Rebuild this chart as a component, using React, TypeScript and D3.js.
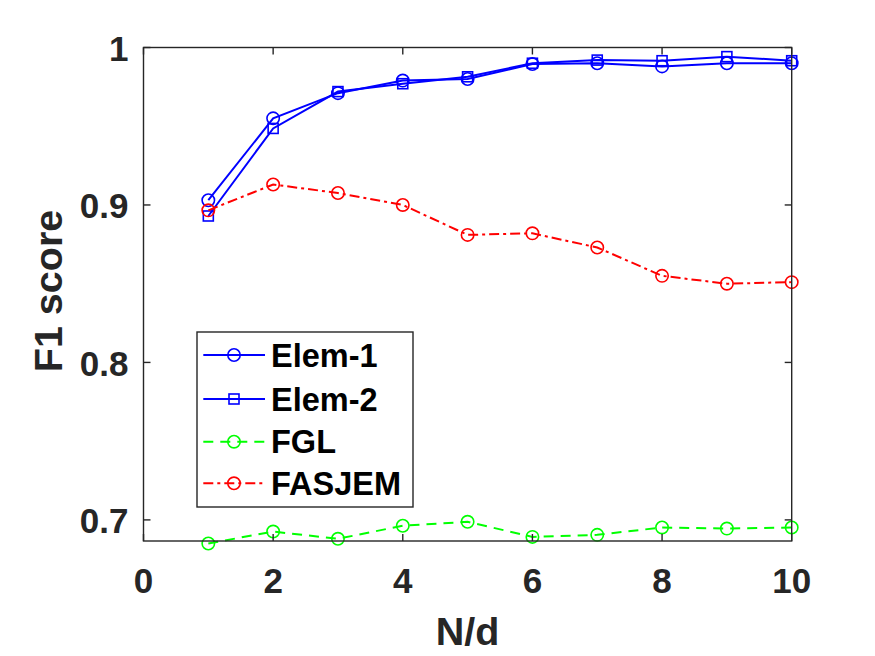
import React from "react";
import * as d3 from "d3";

const xValues = [1, 2, 3, 4, 5, 6, 7, 8, 9, 10];
const elem1 = [0.903, 0.955, 0.971, 0.979, 0.980, 0.9895, 0.990, 0.988, 0.990, 0.990];
const elem2 = [0.893, 0.9486, 0.972, 0.977, 0.9814, 0.990, 0.992, 0.9916, 0.9942, 0.9916];
const fgl = [0.685, 0.6926, 0.688, 0.6963, 0.6988, 0.6892, 0.6905, 0.6952, 0.6945, 0.6952];
const fasjem = [0.8966, 0.913, 0.9076, 0.900, 0.881, 0.882, 0.873, 0.855, 0.850, 0.851];
const xTicks = [0, 2, 4, 6, 8, 10];
const yTicks = [0.7, 0.8, 0.9, 1];
const yTickLabels = ["0.7", "0.8", "0.9", "1"];

const seriesNames = ["Elem-1", "Elem-2", "FGL", "FASJEM"];

const W = 875;
const H = 656;
const left = 143.5, right = 791.7, top = 47.5, bottom = 541;

const axisColor = "#262626";
const font = "'Liberation Sans', Arial, Helvetica, sans-serif";

type Series = { name: string; values: number[]; color: string; dash: string; marker: "circle" | "square" };

const series: Series[] = [
  { name: seriesNames[0], values: elem1, color: "#0000ff", dash: "", marker: "circle" },
  { name: seriesNames[1], values: elem2, color: "#0000ff", dash: "", marker: "square" },
  { name: seriesNames[2], values: fgl, color: "#00ff00", dash: "10,7", marker: "circle" },
  { name: seriesNames[3], values: fasjem, color: "#ff0000", dash: "10,4,3,4", marker: "circle" },
];

function Marker({ type, x, y, color }: { type: string; x: number; y: number; color: string }) {
  if (type === "square") {
    return <rect x={x - 5} y={y - 5} width={10} height={10} fill="none" stroke={color} strokeWidth={1.6} />;
  }
  return <circle cx={x} cy={y} r={6.2} fill="none" stroke={color} strokeWidth={1.6} />;
}

export default function App() {
  const x = d3.scaleLinear().domain([0, 10]).range([left, right]);
  const y = d3.scaleLinear().domain([0.6866, 1]).range([bottom, top]);
  const line = d3
    .line<number>()
    .x((_, i) => x(xValues[i]))
    .y((d) => y(d));

  const tickLen = 7;
  const legX = 197, legY = 332, legW = 216, legH = 175;
  const legRows = [355, 399, 441.7, 483.3];

  return (
    <svg width={W} height={H} style={{ position: "absolute", left: 0, top: 0, background: "#fff" }}>
      <rect x={0} y={0} width={W} height={H} fill="#fff" />
      {/* series */}
      {series.map((s) => (
        <g key={s.name}>
          <path d={line(s.values) || ""} fill="none" stroke={s.color} strokeWidth={2} strokeDasharray={s.dash || undefined} />
          {s.values.map((v, i) => (
            <Marker key={i} type={s.marker} x={x(xValues[i])} y={y(v)} color={s.color} />
          ))}
        </g>
      ))}
      {/* axes box */}
      <rect x={left} y={top} width={right - left} height={bottom - top} fill="none" stroke={axisColor} strokeWidth={1.4} />
      {xTicks.map((t) => (
        <g key={"x" + t}>
          <line x1={x(t)} x2={x(t)} y1={bottom} y2={bottom - tickLen} stroke={axisColor} strokeWidth={1.4} />
          <line x1={x(t)} x2={x(t)} y1={top} y2={top + tickLen} stroke={axisColor} strokeWidth={1.4} />
          <text x={x(t)} y={593} textAnchor="middle" fontFamily={font} fontWeight="bold" fontSize={35} fill={axisColor}>
            {t}
          </text>
        </g>
      ))}
      {yTicks.map((t, i) => (
        <g key={"y" + t}>
          <line x1={left} x2={left + tickLen} y1={y(t)} y2={y(t)} stroke={axisColor} strokeWidth={1.4} />
          <line x1={right} x2={right - tickLen} y1={y(t)} y2={y(t)} stroke={axisColor} strokeWidth={1.4} />
          <text x={128.5} y={y(t) + 13.5} textAnchor="end" fontFamily={font} fontWeight="bold" fontSize={35} fill={axisColor}>
            {yTickLabels[i]}
          </text>
        </g>
      ))}
      {/* axis labels */}
      <text x={467.5} y={645} textAnchor="middle" fontFamily={font} fontWeight="bold" fontSize={39.5} fill={axisColor}>
        N/d
      </text>
      <text
        transform={`translate(62,291) rotate(-90)`}
        textAnchor="middle"
        fontFamily={font}
        fontWeight="bold"
        fontSize={39.5}
        fill={axisColor}
      >
        F1 score
      </text>
      {/* legend */}
      <rect x={legX} y={legY} width={legW} height={legH} fill="#fff" stroke={axisColor} strokeWidth={1.4} />
      {series.map((s, i) => (
        <g key={"leg" + s.name}>
          <line x1={203.3} x2={265} y1={legRows[i]} y2={legRows[i]} stroke={s.color} strokeWidth={2} strokeDasharray={s.dash || undefined} />
          <Marker type={s.marker} x={234} y={legRows[i]} color={s.color} />
          <text x={271} y={legRows[i] + 11.5} fontFamily={font} fontWeight="bold" fontSize={32.5} fill="#000">
            {s.name}
          </text>
        </g>
      ))}
    </svg>
  );
}
